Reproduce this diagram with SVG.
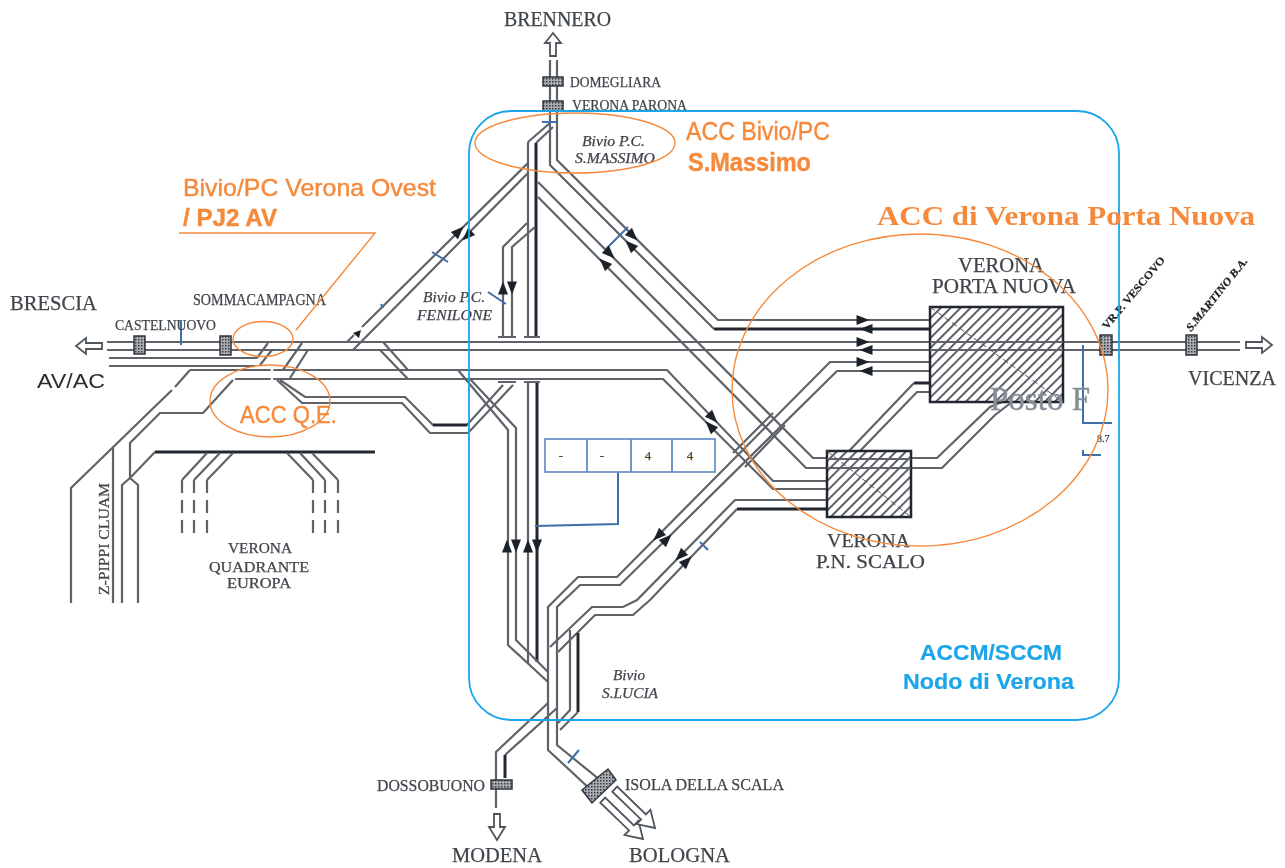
<svg xmlns="http://www.w3.org/2000/svg" width="1285" height="868" viewBox="0 0 1285 868">
<style>
.t{fill:none;stroke:#5f6469;stroke-width:2.2}
.k{fill:none;stroke:#23282d;stroke-width:3}
.d{fill:none;stroke:#5f6469;stroke-width:2.2;stroke-dasharray:13 7}
.b{fill:none;stroke:#3f6ea8;stroke-width:2}
.o{fill:none;stroke:#f58a3c;stroke-width:1.4}
.a{fill:#fff;stroke:#50555b;stroke-width:1.8}
.h{fill:#1f2429}
.s{fill:url(#st);stroke:#30363c;stroke-width:1.5}
text{font-family:"Liberation Serif",serif;fill:#40454b;stroke:#40454b;stroke-width:.25}
.i{font-style:italic}
.g{font-family:"Liberation Sans",sans-serif;fill:#f58a3c;stroke:#f58a3c;stroke-width:.4}
.c{font-family:"Liberation Sans",sans-serif;fill:#1ba5e8;stroke:#1ba5e8;stroke-width:.2;font-weight:bold}
.r{font-weight:bold;fill:#1f2327;stroke:#1f2327}
</style>
<defs>
<pattern id="hat" width="7" height="7" patternUnits="userSpaceOnUse" patternTransform="rotate(-45)"><rect width="7" height="7" fill="#fff"/><rect width="7" height="1.8" fill="#4c5157"/></pattern>
<pattern id="st" width="3" height="3" patternUnits="userSpaceOnUse"><rect width="3" height="3" fill="#a9adb1"/><rect width="1.5" height="1.5" fill="#33393f"/></pattern>
<path id="ar" d="M-6.500 -5L6.500 0L-6.500 5Z"/>
<filter id="soft" x="0" y="0" width="100%" height="100%" filterUnits="userSpaceOnUse" primitiveUnits="userSpaceOnUse"><feGaussianBlur stdDeviation=".45"/></filter>
</defs>
<g filter="url(#soft)">
<g id="connectors">
<path class="t" d="M107 342H1240M107 350H1240"/>
<path class="t" d="M109 358H257M109 366H255"/>
<path class="t" d="M190 370H667L773 481H827M235 379H663L773 489H827"/>
<path d="M272 368V381" stroke="#fff" stroke-width="2.500" fill="none"/>
<path class="t" d="M268 343L257 358M272 350L260 365M302 343L283 370M308 350L290 378M383 342L408 370M380 350L408 379"/>
<path class="t" d="M190 370L175 387M172 390L71 488V603M113 447V603M233 380L203 413H160L130 443V478L122 485V603M130 478L138 485V603M155 452L131 477"/>
<path class="k" d="M155 452H375"/>
<path class="t" d="M280 380L305 397H405L433 425H467L503 385M277 380L302 403H402L430 433H468L513 385"/>
<path class="k" d="M433 425H467"/>
<path class="t" d="M207 453L182 480M220 453L194 480M233 453L207 480M287 453L313 480M300 453L325 480M312 453L338 480"/>
<path class="d" d="M182 480V533M194 480V533M207 480V533M313 480V533M325 480V533M338 480V533"/>
<path class="t" d="M347 342L354 335M362 327L528 163M353 350L528 173"/>
<path class="t" d="M557 60V160L718 320H930M550 60V165L714 329"/>
<path class="k" d="M714 329H930"/>
<path class="t" d="M528 142L550 123M536 143L553 127"/>
<path class="t" d="M528 142V337M528 382V663"/>
<path class="k" d="M536 143V337M537 382V662"/>
<path class="t" d="M503 337V247L527 223M512 337V247L535 227"/>
<path class="t" d="M498 337H516M524 337H540M498 382H516M524 382H540"/>
<path class="t" d="M538 182L813 458H937L990 407L1002 402M538 197L806 468H942L995 415L1012 402"/>
<path class="t" d="M458 370L508 430V645L548 682M470 379L516 428V640L548 672"/>
<path class="t" d="M930 362H830L617 577H578L548 607V750L590 789M930 371H837L620 585H580L557 607V745L600 780"/>
<path class="t" d="M827 500H735L637 600L623 607H592L550 647"/>
<path class="t" d="M737 509L650 600L633 615H595L558 652"/>
<path class="k" d="M827 509H737"/>
<path class="t" d="M570 630V710L558 723"/>
<path class="k" d="M578 633V712"/>
<path class="t" d="M578 712L560 730"/>
<path class="t" d="M548 703L496 752V808M557 708L505 755"/>
<path class="k" d="M505 755V778"/>
<path class="t" d="M849 451L914 383M860 451L917 392H930"/>
<path class="k" d="M914 383H930"/>
<path class="t" d="M733 453L773 413M745 467L785 425"/>
<path class="b" d="M432 252L448 262M488 292L506 304M605 250L628 227M700 542L708 550M568 763L579 750M181 320V345M381 304L383 308M1083 345V423H1112M1083 450V455H1101"/>
<path class="b" d="M542 122H557"/>
<path class="b" stroke-width="2.500" d="M618 471V524L535 526"/>
<g class="h">
<path d="M353 333l8 -3l-2 8z"/>
<use href="#ar" transform="translate(459 231) rotate(-45)"/>
<use href="#ar" transform="translate(467 236) rotate(135)"/>
<use href="#ar" transform="translate(633 236) rotate(45)"/>
<use href="#ar" transform="translate(630 245) rotate(-135)"/>
<use href="#ar" transform="translate(610 254) rotate(45)"/>
<use href="#ar" transform="translate(604 263) rotate(-135)"/>
<use href="#ar" transform="translate(503 288) rotate(-90)"/>
<use href="#ar" transform="translate(512 288) rotate(90)"/>
<use href="#ar" transform="translate(713 418) rotate(46)"/>
<use href="#ar" transform="translate(710 426) rotate(-134)"/>
<use href="#ar" transform="translate(507 546) rotate(-90)"/>
<use href="#ar" transform="translate(516 546) rotate(90)"/>
<use href="#ar" transform="translate(528 546) rotate(-90)"/>
<use href="#ar" transform="translate(537 546) rotate(90)"/>
<use href="#ar" transform="translate(658 536) rotate(135)"/>
<use href="#ar" transform="translate(667 539) rotate(-45)"/>
<use href="#ar" transform="translate(680 556) rotate(135)"/>
<use href="#ar" transform="translate(687 561) rotate(-45)"/>
<use href="#ar" transform="translate(863 320)"/>
<use href="#ar" transform="translate(866 329) rotate(180)"/>
<use href="#ar" transform="translate(863 342)"/>
<use href="#ar" transform="translate(866 350) rotate(180)"/>
<use href="#ar" transform="translate(863 362)"/>
<use href="#ar" transform="translate(866 371) rotate(180)"/>
</g>
</g>

<g id="node-porta-nuova">
<rect x="930" y="307" width="133" height="95" fill="url(#hat)" stroke="#23282d" stroke-width="2.500"/>
<path d="M930 307L1063 402" stroke="#50555b" stroke-width="1" stroke-dasharray="6 3"/>
<path class="t" d="M930 342H1063M930 350H1063"/>
<text x="958" y="272" font-size="20" textLength="86" lengthAdjust="spacingAndGlyphs">VERONA</text>
<text x="932" y="293" font-size="20" textLength="144" lengthAdjust="spacingAndGlyphs">PORTA NUOVA</text>
</g>
<g id="node-pn-scalo">
<rect x="827" y="451" width="84" height="66" fill="url(#hat)" stroke="#23282d" stroke-width="2.500"/>
<path d="M827 451L911 517" stroke="#50555b" stroke-width="1" stroke-dasharray="6 3"/>
<path class="t" d="M827 459H911M827 468H911"/>
<text x="827" y="547" font-size="19" textLength="83" lengthAdjust="spacingAndGlyphs">VERONA</text>
<text x="816" y="568" font-size="19" textLength="109" lengthAdjust="spacingAndGlyphs">P.N. SCALO</text>
</g>

<g id="node-brennero">
<path class="a" d="M553 33l-8 10h5v13h6v-13h5z"/>
<text x="504" y="26" font-size="20" textLength="107" lengthAdjust="spacingAndGlyphs">BRENNERO</text>
<rect class="s" x="543" y="77" width="20" height="9"/>
<text x="570" y="87" font-size="15" textLength="91" lengthAdjust="spacingAndGlyphs">DOMEGLIARA</text>
<rect class="s" x="543" y="101" width="20" height="10"/>
<text x="572" y="110" font-size="15" textLength="115" lengthAdjust="spacingAndGlyphs">VERONA PARONA</text>
</g>
<g id="node-brescia">
<path class="a" d="M76 346l10 -8v5h16v6h-16v5z"/>
<text x="10" y="310" font-size="21" textLength="87" lengthAdjust="spacingAndGlyphs">BRESCIA</text>
<text x="37" y="388" font-size="20" style="font-family:'Liberation Sans',sans-serif;fill:#2c2f33;stroke:none" textLength="68" lengthAdjust="spacingAndGlyphs">AV/AC</text>
<rect class="s" x="134" y="336" width="11" height="18"/>
<text x="115" y="330" font-size="15" textLength="101" lengthAdjust="spacingAndGlyphs">CASTELNUOVO</text>
<rect class="s" x="220" y="336" width="11" height="19"/>
<text x="193" y="305" font-size="16" textLength="133" lengthAdjust="spacingAndGlyphs">SOMMACAMPAGNA</text>
</g>
<g id="node-vicenza">
<path class="a" d="M1272 345l-10 -8v5h-16v6h16v5z"/>
<text x="1188" y="385" font-size="20" textLength="88" lengthAdjust="spacingAndGlyphs">VICENZA</text>
<rect class="s" x="1100" y="335" width="12" height="20"/>
<rect class="s" x="1186" y="335" width="11" height="20"/>
<text class="r" transform="translate(1107 330) rotate(-50)" font-size="11" textLength="91" lengthAdjust="spacingAndGlyphs">VR.P. VESCOVO</text>
<text class="r i" transform="translate(1191 332) rotate(-51)" font-size="11" textLength="91" lengthAdjust="spacingAndGlyphs">S.MARTINO B.A.</text>
</g>
<g id="node-quadrante">
<text x="228" y="553" font-size="15" textLength="64" lengthAdjust="spacingAndGlyphs">VERONA</text>
<text x="209" y="572" font-size="15" textLength="100" lengthAdjust="spacingAndGlyphs">QUADRANTE</text>
<text x="227" y="588" font-size="15" textLength="64" lengthAdjust="spacingAndGlyphs">EUROPA</text>
<text transform="translate(109 595) rotate(-90)" font-size="14" textLength="112" lengthAdjust="spacingAndGlyphs">Z-PIPPI CLUAM</text>
</g>
<g id="node-modena">
<path class="a" d="M497 840l-8 -13h5v-13h6v13h5z"/>
<rect class="s" x="491" y="780" width="21" height="9"/>
<text x="377" y="791" font-size="16" textLength="108" lengthAdjust="spacingAndGlyphs">DOSSOBUONO</text>
<text x="452" y="862" font-size="21" textLength="90" lengthAdjust="spacingAndGlyphs">MODENA</text>
</g>
<g id="node-bologna">
<path class="a" d="M0 0L-16 -10V-3.500H-56V3.500H-16V10Z" transform="translate(643 839) rotate(44)"/>
<path class="a" d="M0 0L-16 -10V-3.500H-56V3.500H-16V10Z" transform="translate(655 828) rotate(44)"/>
<path class="s" d="M582 790L608 769L616 780L592 803Z"/>
<text x="625" y="790" font-size="16" textLength="159" lengthAdjust="spacingAndGlyphs">ISOLA DELLA SCALA</text>
<text x="629" y="862" font-size="21" textLength="101" lengthAdjust="spacingAndGlyphs">BOLOGNA</text>
</g>
<g id="node-bivi">
<text class="i" x="582" y="146" font-size="14" textLength="63" lengthAdjust="spacingAndGlyphs">Bivio P.C.</text>
<text class="i" x="575" y="163" font-size="14" textLength="80" lengthAdjust="spacingAndGlyphs">S.MASSIMO</text>
<text class="i" x="423" y="302" font-size="15" textLength="62" lengthAdjust="spacingAndGlyphs">Bivio P.C.</text>
<text class="i" x="417" y="320" font-size="15" textLength="75" lengthAdjust="spacingAndGlyphs">FENILONE</text>
<text class="i" x="613" y="680" font-size="15" textLength="32" lengthAdjust="spacingAndGlyphs">Bivio</text>
<text class="i" x="602" y="698" font-size="15" textLength="56" lengthAdjust="spacingAndGlyphs">S.LUCIA</text>
</g>
<g id="node-table">
<rect x="545" y="439" width="170" height="33" fill="#fff" stroke="#6d96c8" stroke-width="1.800"/>
<path d="M587 439V472M631 439V472M672 439V472" stroke="#5f8bc2" stroke-width="1.800"/>
<g font-size="13" text-anchor="middle">
<text x="561" y="460" style="fill:#553a22;stroke:#553a22">-</text><text x="602" y="460" style="fill:#553a22;stroke:#553a22">-</text><text x="648" y="460" style="fill:#553a22;stroke:#553a22">4</text><text x="690" y="460" style="fill:#553a22;stroke:#553a22">4</text>
</g>
</g>
<g id="node-posto">
<text x="990" y="410" font-size="34" style="fill:#868e98;stroke:#868e98;stroke-width:.5" textLength="100" lengthAdjust="spacingAndGlyphs">Posto F</text>
<text x="1097" y="442" font-size="10">8.7</text>
</g>
<g id="annotations">
<rect x="469" y="111" width="650" height="609" rx="42" fill="none" stroke="#1ba5e8" stroke-width="1.800"/>
<ellipse class="o" cx="575" cy="143" rx="100" ry="30"/>
<ellipse class="o" cx="920" cy="390" rx="188" ry="156"/>
<ellipse class="o" cx="270" cy="401" rx="60" ry="36"/>
<ellipse class="o" cx="263" cy="339" rx="30" ry="17.500"/>
<path class="o" d="M179 233H375L296 330"/>
<text class="g" x="183" y="196" font-size="24" textLength="253" lengthAdjust="spacingAndGlyphs">Bivio/PC Verona Ovest</text>
<text class="g" x="183" y="226" font-size="24" font-weight="bold" textLength="94" lengthAdjust="spacingAndGlyphs">/ PJ2 AV</text>
<text class="g" x="240" y="423" font-size="24" textLength="97" lengthAdjust="spacingAndGlyphs">ACC Q.E.</text>
<text class="g" x="686" y="140" font-size="25" textLength="144" lengthAdjust="spacingAndGlyphs">ACC Bivio/PC</text>
<text class="g" x="688" y="171" font-size="25" font-weight="bold" textLength="123" lengthAdjust="spacingAndGlyphs">S.Massimo</text>
<text x="877" y="225" font-size="28" font-weight="bold" style="fill:#f58a3c;stroke:none" textLength="378" lengthAdjust="spacingAndGlyphs">ACC di Verona Porta Nuova</text>
<text class="c" x="920" y="660" font-size="22" textLength="142" lengthAdjust="spacingAndGlyphs">ACCM/SCCM</text>
<text class="c" x="903" y="689" font-size="22" textLength="171" lengthAdjust="spacingAndGlyphs">Nodo di Verona</text>
</g>
</g>
</svg>
